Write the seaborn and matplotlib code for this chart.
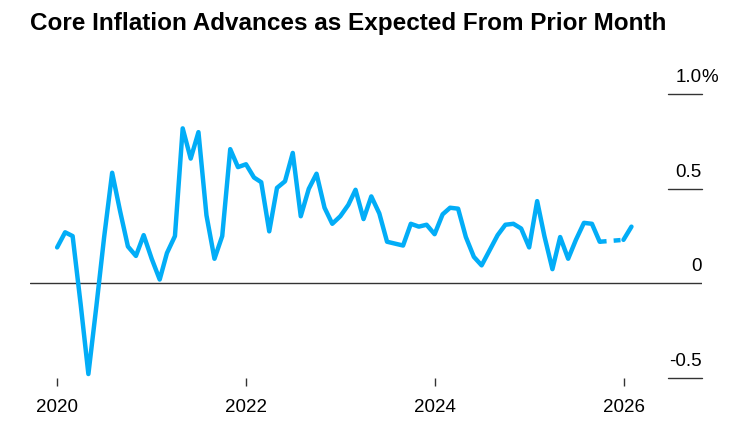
import numpy as np
import pandas as pd
import matplotlib.pyplot as plt
import seaborn as sns

# ─────────────────────────────────────────────
# DATOS (variación mensual del IPC subyacente, %)
# ─────────────────────────────────────────────
FECHA_INICIO = "2019-12-31"
VALORES = [
    0.19,                                                                   # dic 2019
    0.27, 0.25, -0.11, -0.48, -0.12, 0.245, 0.585, 0.38, 0.195, 0.145, 0.255, 0.13,   # 2020
    0.02, 0.16, 0.25, 0.82, 0.66, 0.80, 0.36, 0.13, 0.25, 0.71, 0.615, 0.63,          # 2021
    0.56, 0.535, 0.275, 0.505, 0.54, 0.69, 0.355, 0.50, 0.58, 0.40, 0.315, 0.355,     # 2022
    0.415, 0.495, 0.34, 0.46, 0.37, 0.22, 0.21, 0.20, 0.315, 0.30, 0.31, 0.26,        # 2023
    0.365, 0.40, 0.395, 0.245, 0.14, 0.095, 0.175, 0.255, 0.31, 0.315, 0.29, 0.19,    # 2024
    0.435, 0.25, 0.075, 0.245, 0.13, 0.23, 0.32, 0.315, 0.22, np.nan, np.nan, 0.23,   # 2025
    0.30,                                                                   # ene 2026
]
TICKS_Y = [-0.5, 0, 0.5, 1.0]
ETIQUETAS_Y = ["-0.5", "0", "0.5", "1.0"]
TICKS_X = ["2020-01-01", "2022-01-01", "2024-01-01", "2026-01-01"]
ETIQUETAS_X = ["2020", "2022", "2024", "2026"]
TITULO = "Core Inflation Advances as Expected From Prior Month"

AZUL = "#02adf7"
GRIS = "#333333"

df = pd.DataFrame({
    "fecha": pd.date_range(FECHA_INICIO, periods=len(VALORES), freq="ME"),
    "valor": VALORES,
})

# tramos: sólido hasta sep 2025, hueco oct-nov (discontinuo), sólido dic 2025 - ene 2026
faltan = df["valor"].isna()
idx_hueco = np.where(faltan)[0]
tramo1 = df.iloc[:idx_hueco[0]]
tramo2 = df.iloc[idx_hueco[-1] + 1:]
tramo_disc = df.iloc[[idx_hueco[0] - 1, idx_hueco[-1] + 1]]

# ─────────────────────────────────────────────
# FIGURA
# ─────────────────────────────────────────────
sns.set_style("white")
plt.rcParams["font.family"] = ["Liberation Sans", "DejaVu Sans"]
plt.rcParams["text.color"] = "black"
plt.rcParams["xtick.labelcolor"] = "black"

fig = plt.figure(figsize=(7.33, 4.28), dpi=100)
ax = fig.add_axes([30 / 733, 1 - 378 / 428, 672 / 733, 288 / 428])

kw = dict(x="fecha", y="valor", color=AZUL, linewidth=3.2, ax=ax,
          solid_capstyle="round", solid_joinstyle="round")
sns.lineplot(data=tramo1, **kw)
sns.lineplot(data=tramo2, **kw)
sns.lineplot(data=tramo_disc, x="fecha", y="valor", color=AZUL, linewidth=3.2, ax=ax,
             dashes=False, linestyle=(0, (1.55, 1.6)), dash_capstyle="butt")

# ejes
x0 = pd.Timestamp("2020-01-01")
ax.set_xlim(x0 - pd.Timedelta(days=106), x0 + pd.Timedelta(days=2495))
ax.set_ylim(-0.501, 1.023)
for s in ax.spines.values():
    s.set_visible(False)
ax.set_xlabel("")
ax.set_ylabel("")
ax.set_yticks([])
ax.set_xticks(pd.to_datetime(TICKS_X))
ax.set_xticklabels(ETIQUETAS_X, fontsize=13.5, color="black")
ax.tick_params(axis="x", direction="out", length=5.8, width=1, color=GRIS, pad=9, bottom=True)

# líneas de referencia y etiquetas a la derecha
for t, lab in zip(TICKS_Y, ETIQUETAS_Y):
    if t == 0:
        ax.axhline(t, xmin=0, xmax=1, color=GRIS, linewidth=1.0, zorder=1)
    else:
        ax.axhline(t, xmin=(668 - 30) / 672, xmax=1, color=GRIS, linewidth=1.0,
                   zorder=1, clip_on=False)
    ax.annotate(lab, xy=(1, t), xycoords=("axes fraction", "data"),
                xytext=(0, 8.6), textcoords="offset points", color="black",
                ha="right", va="baseline", fontsize=13.5, annotation_clip=False)
    if lab == "1.0":
        ax.annotate("%", xy=(1, t), xycoords=("axes fraction", "data"),
                    xytext=(-0.6, 8.6), textcoords="offset points", color="black",
                    ha="left", va="baseline", fontsize=13.5, annotation_clip=False)

fig.text(30 / 733, 1 - 30 / 428, TITULO, fontsize=17.5, fontweight="bold",
         color="black", ha="left", va="baseline")

plt.savefig("out.png", dpi=100)
